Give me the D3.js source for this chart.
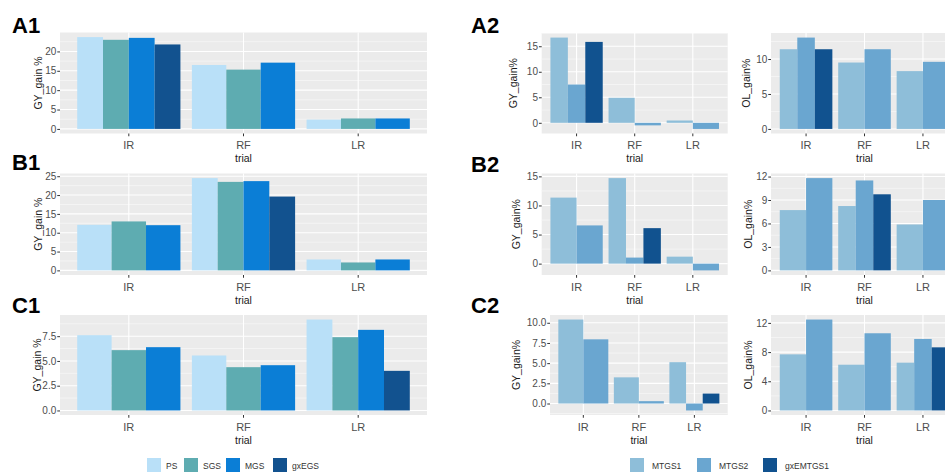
<!DOCTYPE html>
<html><head><meta charset="utf-8">
<script src="https://cdn.jsdelivr.net/npm/d3@7"></script>
<style>
body{margin:0;background:#fff}
svg{display:block}
text{font-family:"Liberation Sans",Arial,sans-serif}
</style>
</head><body>
<svg id="c" width="945" height="475"></svg>
<script>
// ---------- data ----------
const trials = ["IR", "RF", "LR"];
const seriesGS = ["PS", "SGS", "MGS", "gxEGS"];
const seriesMT = ["MTGS1", "MTGS2", "gxEMTGS1"];
const colorsGS = ["#b9e0f8", "#5eacb1", "#0b7ed6", "#12528f"];
const colorsMT = ["#8ebed9", "#6aa6d0", "#11528f"];

// rows follow the series order, columns follow trials; null = no bar
const A1_GY = [[23.7, 16.5, 2.4], [23.0, 15.3, 2.7], [23.5, 17.1, 2.7], [21.8, null, null]];
const B1_GY = [[12.1, 24.5, 2.9], [13.0, 23.5, 2.1], [12.0, 23.7, 2.9], [null, 19.6, null]];
const C1_GY = [[7.6, 5.55, 9.18], [6.09, 4.37, 7.4], [6.39, 4.57, 8.14], [null, null, 4.0]];

const A2_GY = [[16.7, 4.9, 0.45], [7.5, -0.5, -1.2], [15.85, null, null]];
const A2_OL = [[11.4, 9.5, 8.27], [13.07, 11.4, 9.6], [11.4, null, null]];
const B2_GY = [[11.35, 14.7, 1.2], [6.57, 1.04, -1.16], [null, 6.1, null]];
const B2_OL = [[7.71, 8.23, 5.87], [11.8, 11.5, 9.0], [null, 9.73, null]];
const C2_GY = [[10.4, 3.24, 5.12], [7.95, 0.29, -0.86], [null, null, 1.23]];
const C2_OL = [[7.69, 6.27, 6.55], [12.46, 10.58, 9.8], [null, null, 8.65]];

const ticksA1 = [0, 5, 10, 15, 20];
const ticksB1 = [0, 5, 10, 15, 20, 25];
const ticksC1 = [0, 2.5, 5, 7.5];
const ticksGY15 = [0, 5, 10, 15];
const ticksA2OL = [0, 5, 10];
const ticksB2OL = [0, 3, 6, 9, 12];
const ticksC2GY = [0, 2.5, 5, 7.5, 10];
const ticksC2OL = [0, 4, 8, 12];

// ---------- drawing ----------
const svg = d3.select("#c");
const fmtInt = d3.format("d"), fmt1 = d3.format(".1f");

const panels = [
  {vals: A1_GY, cols: colorsGS, ticks: ticksA1, fmt: fmtInt, title: "GY_gain %", x0: 60, x1: 427, y0: 32.5, y1: 133.5, tx: 38},
  {vals: B1_GY, cols: colorsGS, ticks: ticksB1, fmt: fmtInt, title: "GY_gain %", x0: 60, x1: 427, y0: 173.5, y1: 275, tx: 38},
  {vals: C1_GY, cols: colorsGS, ticks: ticksC1, fmt: fmt1, title: "GY_gain %", x0: 60, x1: 427, y0: 315, y1: 415, tx: 37},
  {vals: A2_GY, cols: colorsMT, ticks: ticksGY15, fmt: fmtInt, title: "GY_gain%", x0: 541.7, x1: 727.7, y0: 33, y1: 133.5, tx: 513},
  {vals: B2_GY, cols: colorsMT, ticks: ticksGY15, fmt: fmtInt, title: "GY_gain%", x0: 541.7, x1: 727.7, y0: 173.5, y1: 275, tx: 516},
  {vals: C2_GY, cols: colorsMT, ticks: ticksC2GY, fmt: fmt1, title: "GY_gain%", x0: 550, x1: 727.7, y0: 315, y1: 415, tx: 516},
  {vals: A2_OL, cols: colorsMT, ticks: ticksA2OL, fmt: fmtInt, title: "OL_gain%", x0: 771, x1: 958, y0: 33, y1: 133.5, tx: 746},
  {vals: B2_OL, cols: colorsMT, ticks: ticksB2OL, fmt: fmtInt, title: "OL_gain%", x0: 771, x1: 958, y0: 173.5, y1: 275, tx: 748},
  {vals: C2_OL, cols: colorsMT, ticks: ticksC2OL, fmt: fmtInt, title: "OL_gain%", x0: 771, x1: 958, y0: 315, y1: 415, tx: 748}
];

panels.forEach((p) => {
  const g = svg.append("g");
  const all = p.vals.flat().filter(v => v != null).concat([0]);
  const lo = d3.min(all), hi = d3.max(all), span = hi - lo;
  const y = d3.scaleLinear().domain([lo - 0.05 * span, hi + 0.05 * span]).range([p.y1, p.y0]);
  const x = d3.scaleBand().domain(trials).range([p.x0, p.x1]).paddingInner(0.1).paddingOuter(0.15);

  g.append("rect").attr("x", p.x0).attr("y", p.y0).attr("width", p.x1 - p.x0).attr("height", p.y1 - p.y0).attr("fill", "#ebebeb");

  // minor gridlines
  const step = p.ticks[1] - p.ticks[0];
  const dom = y.domain();
  const minors = [];
  for (let v = p.ticks[0] - step / 2; v <= p.ticks[p.ticks.length - 1] + step / 2 + 1e-9; v += step) {
    if (v >= dom[0] && v <= dom[1]) minors.push(v);
  }
  g.selectAll(".mn").data(minors).join("line")
    .attr("x1", p.x0).attr("x2", p.x1).attr("y1", d => y(d)).attr("y2", d => y(d))
    .attr("stroke", "#fafafa").attr("stroke-width", 0.6);
  g.selectAll(".mj").data(p.ticks).join("line")
    .attr("x1", p.x0).attr("x2", p.x1).attr("y1", d => y(d)).attr("y2", d => y(d))
    .attr("stroke", "#fff").attr("stroke-width", 1.1);
  g.selectAll(".vx").data(trials).join("line")
    .attr("x1", d => x(d) + x.bandwidth() / 2).attr("x2", d => x(d) + x.bandwidth() / 2)
    .attr("y1", p.y0).attr("y2", p.y1).attr("stroke", "#fff").attr("stroke-width", 1.1);

  // bars (dodged within each trial, width shared by present bars)
  const bars = [];
  trials.forEach((t, j) => {
    const present = p.vals.map((row, i) => ({i, v: row[j]})).filter(d => d.v != null);
    const bw = x.bandwidth() / present.length;
    present.forEach((d, k) => bars.push({t, k, bw, v: d.v, c: p.cols[d.i]}));
  });
  g.selectAll(".bar").data(bars).join("rect")
    .attr("x", d => x(d.t) + d.k * d.bw).attr("width", d => d.bw)
    .attr("y", d => y(Math.max(0, d.v))).attr("height", d => Math.abs(y(d.v) - y(0)))
    .attr("fill", d => d.c);

  // axes
  const ya = g.append("g").attr("transform", `translate(${p.x0},0)`)
    .call(d3.axisLeft(y).tickValues(p.ticks).tickFormat(p.fmt).tickSize(2.75).tickPadding(1));
  const xa = g.append("g").attr("transform", `translate(0,${p.y1})`)
    .call(d3.axisBottom(x).tickSize(2.75).tickPadding(5));
  [ya, xa].forEach(a => {
    a.select(".domain").remove();
    a.selectAll(".tick line").attr("stroke", "#333");
    a.selectAll(".tick text").attr("fill", "#4d4d4d").attr("font-size", 10).attr("font-family", "Liberation Sans, Arial, sans-serif");
  });
  xa.selectAll(".tick text").attr("font-size", 11);

  g.append("text").attr("transform", `translate(${p.tx},${(p.y0 + p.y1) / 2}) rotate(-90)`)
    .attr("text-anchor", "middle").attr("dominant-baseline", "central")
    .attr("font-size", 10.5).attr("fill", "#1a1a1a").text(p.title);
  g.append("text").attr("x", (p.x0 + p.x1) / 2).attr("y", p.y1 + 28.5)
    .attr("text-anchor", "middle").attr("font-size", 10.5).attr("fill", "#1a1a1a").text("trial");
});

// panel labels
const labels = [["A1", 12, 33], ["B1", 12, 170], ["C1", 12, 313], ["A2", 471, 33], ["B2", 471, 172], ["C2", 471, 313]];
svg.selectAll(".lab").data(labels).join("text")
  .attr("x", d => d[1]).attr("y", d => d[2]).attr("font-size", 22).attr("font-weight", "bold")
  .attr("fill", "#000").text(d => d[0]);

// legends
function legend(names, cols, xs, off) {
  const lg = svg.append("g");
  names.forEach((n, i) => {
    lg.append("rect").attr("x", xs[i]).attr("y", 458).attr("width", 14).attr("height", 14).attr("fill", cols[i]);
    lg.append("text").attr("x", xs[i] + off).attr("y", 468.5).attr("font-size", 8.5).attr("fill", "#333").text(n);
  });
}
legend(seriesGS, colorsGS, [147, 184, 226, 273], 19);
legend(seriesMT, colorsMT, [630, 697, 763], 22);
</script>
</body></html>
